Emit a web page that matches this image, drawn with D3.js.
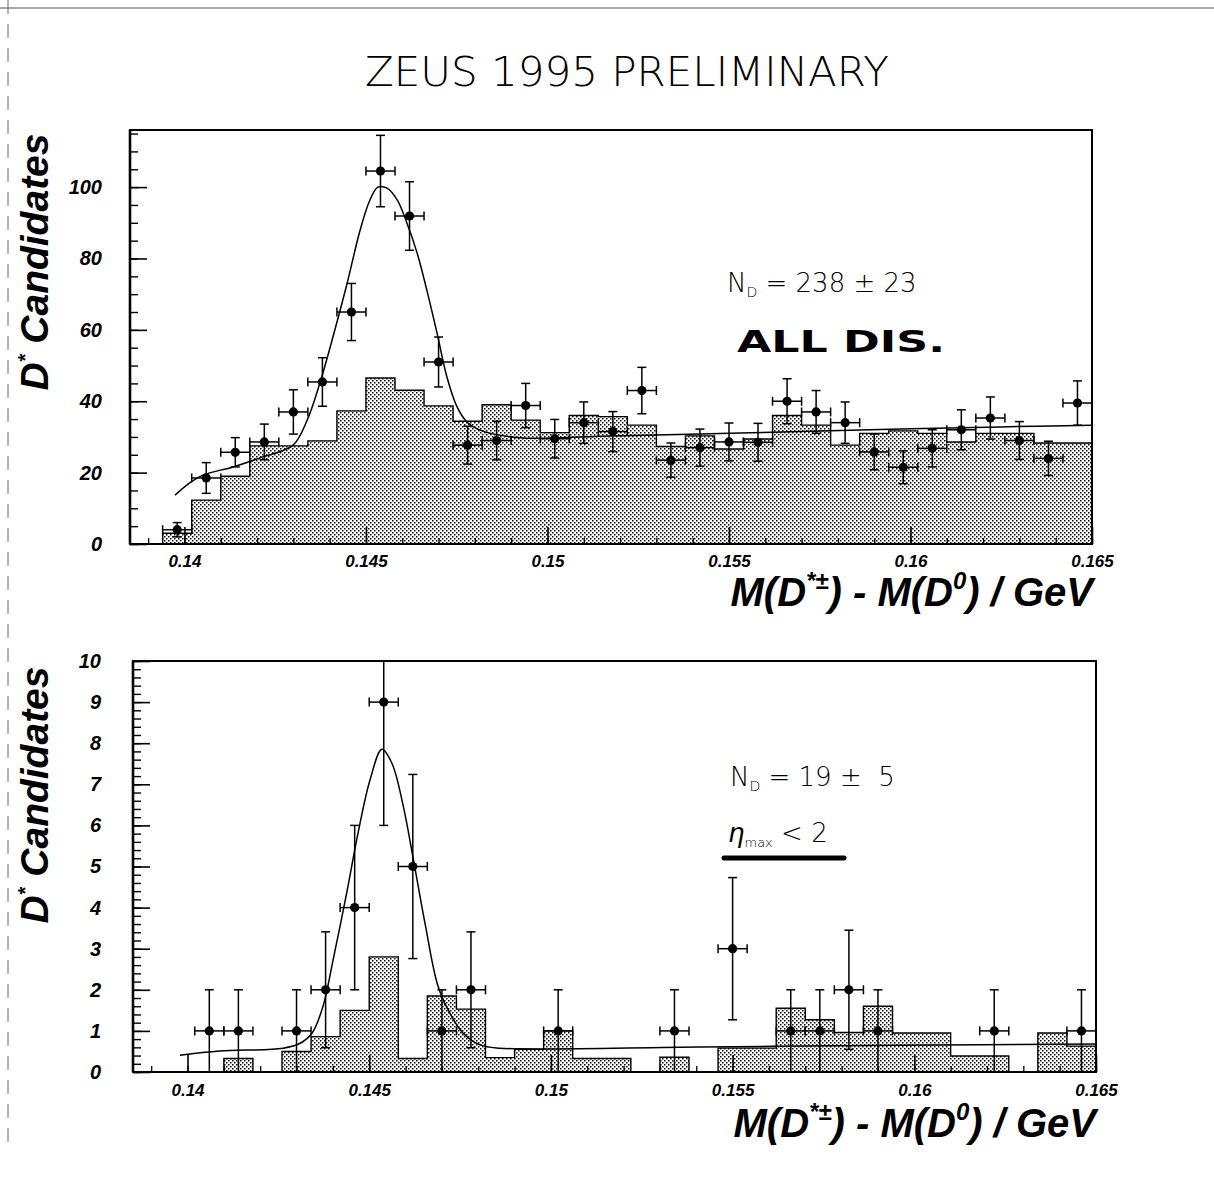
<!DOCTYPE html>
<html>
<head>
<meta charset="utf-8">
<script src="https://cdn.jsdelivr.net/npm/d3@7"></script>
<style>
  html, body { margin: 0; padding: 0; background: #fff; }
  svg { display: block; }
</style>
</head>
<body>
<div id="chart"></div>
<script>
// ---- binning shared by both mass-difference histograms ----
const binStart = 0.1394;
const binWidth = 0.0008;

// ---- ALL DIS sample ----
// right-charge D* candidates per bin and their errors
const topCounts = [4, 18.5, 25.7, 28.6, 37, 45.4, 65, 104.5, 91.9, 51, 27.7, 29, 38.8, 29.5, 34, 31.5,
                   43, 23.5, 27, 28.6, 28.5, 40, 37, 34, 25.8, 21.5, 26.8, 32, 35.3, 29, 24, 39.5];
const topErrors = [2, 4.3, 4.1, 5, 6.2, 6.8, 8, 10, 9.6, 7, 5.3, 5.4, 6.2, 5.4, 5.8, 5.6,
                   6.5, 4.8, 5.2, 5.3, 5.3, 6.3, 6, 5.8, 5, 4.6, 5.2, 5.6, 5.9, 5.3, 4.8, 6.2];
// wrong-charge combinations (shaded histogram)
const topBackground = [3, 12.3, 19, 27.5, 27.5, 28.9, 37.3, 46.5, 43.1, 38.7, 34.4, 39, 34.7, 31.2, 36, 35.7,
                       33.3, 27.3, 30.3, 26.6, 29.4, 36, 33.3, 27.7, 31, 31.7, 31, 28.6, 31, 31, 28.3, 28.3];
// fitted curve (signal + background)
const topFitX = [0.13974, 0.14010, 0.14051, 0.14134, 0.14216, 0.14299, 0.14338, 0.14373, 0.14409, 0.14448,
                 0.14484, 0.14511, 0.14533, 0.14558, 0.14586, 0.14610, 0.14641, 0.14668, 0.14696, 0.14723,
                 0.14751, 0.14778, 0.14814, 0.14924, 0.15145, 0.15420, 0.15696, 0.15971, 0.16247, 0.16500];
const topFitY = [13.7, 16.8, 19.3, 21.6, 24.4, 27.7, 34.7, 45.1, 58, 73,
                 88, 96.4, 100, 99.7, 96.4, 90.7, 81.5, 71, 59, 46.8,
                 38.4, 34.2, 31.9, 29.8, 30.2, 30.8, 31.5, 32.2, 32.8, 33.3];

// ---- eta_max < 2 sample ----
const bottomCounts = [0, 1, 1, 0, 1, 2, 4, 9, 5, 1, 2, 0, 0, 1, 0, 0,
                      0, 1, 0, 3, 0, 1, 1, 2, 1, 0, 0, 0, 1, 0, 0, 1];
const bottomErrors = [0, 1, 1, 0, 1, 1.41, 2, 3, 2.24, 1, 1.41, 0, 0, 1, 0, 0,
                      0, 1, 0, 1.73, 0, 1, 1, 1.45, 1, 0, 0, 0, 1, 0, 0, 1];
const bottomBackground = [0, 0, 0.33, 0, 0.5, 0.86, 1.5, 2.8, 0.33, 1.85, 1.53, 0.35, 0.55, 1.0, 0.33, 0.33,
                          0, 0.36, 0, 0.58, 0.58, 1.55, 1.27, 0.96, 1.6, 0.95, 0.95, 0.39, 0.39, 0, 0.95, 0.63];
const bottomFitX = [0.13979, 0.14089, 0.14263, 0.14310, 0.14343, 0.14373, 0.14400, 0.14439, 0.14469, 0.14502,
                    0.14535, 0.14563, 0.14593, 0.14621, 0.14654, 0.14689, 0.14722, 0.14758, 0.14805, 0.14860,
                    0.15410, 0.15961, 0.16500];
const bottomFitY = [0.41, 0.51, 0.58, 0.7, 0.95, 1.6, 2.7, 4.4, 5.8, 7.1,
                    7.85, 7.5, 6.5, 5.2, 3.6, 2.1, 1.43, 0.95, 0.66, 0.58,
                    0.61, 0.65, 0.68];

// ---- axes ----
const xDomain = [0.1385, 0.165];
const xTickValues = [0.14, 0.145, 0.15, 0.155, 0.16, 0.165];
const xTickLabels = ["0.14", "0.145", "0.15", "0.155", "0.16", "0.165"];
const xMinorTicks = d3.range(0.139, 0.1651, 0.001);
const topYMax = 116;
const topYTicks = [0, 20, 40, 60, 80, 100];
const topYMinor = d3.range(0, 116, 5);
const bottomYMax = 10;
const bottomYTicks = [0, 1, 2, 3, 4, 5, 6, 7, 8, 9, 10];
const bottomYMinor = d3.range(0, 10.01, 0.2);

const W = 1214, H = 1185;
const svg = d3.select("#chart").append("svg")
  .attr("width", W).attr("height", H)
  .attr("viewBox", `0 0 ${W} ${H}`);

// dotted screen used for the wrong-charge histograms
const defs = svg.append("defs");
const pat = defs.append("pattern")
  .attr("id", "dots").attr("patternUnits", "userSpaceOnUse")
  .attr("width", 4).attr("height", 4);
pat.append("rect").attr("width", 4).attr("height", 4).attr("fill", "#fff");
pat.append("rect").attr("x", 0).attr("y", 0).attr("width", 1.5).attr("height", 1.5).attr("fill", "#000");
pat.append("rect").attr("x", 2).attr("y", 2).attr("width", 1.5).attr("height", 1.5).attr("fill", "#000");

const boldItalic = "'Liberation Sans', Arial, Helvetica, sans-serif";
const thinFont = "'DejaVu Sans', 'Liberation Sans', sans-serif";

// page edge marks of the original sheet
svg.append("line").attr("x1", 0).attr("x2", W).attr("y1", 8).attr("y2", 8)
  .attr("stroke", "#555").attr("stroke-width", 1);
svg.append("line").attr("x1", 8).attr("x2", 8).attr("y1", 0).attr("y2", 1150)
  .attr("stroke", "#666").attr("stroke-width", 1).attr("stroke-dasharray", "14 10");

// title
svg.append("text")
  .attr("x", 627).attr("y", 86)
  .attr("text-anchor", "middle")
  .attr("font-family", thinFont).attr("font-weight", 200)
  .attr("font-size", 40)
  .attr("textLength", 524).attr("lengthAdjust", "spacingAndGlyphs")
  .text("ZEUS 1995 PRELIMINARY");

function drawPanel(cfg) {
  const { left, right, top, bottom, yMax, counts, errors, background, fitX, fitY,
          yTicks, yMinor, labelPad, xLabelPad, id } = cfg;
  const x = d3.scaleLinear().domain(xDomain).range([left, right]);
  const y = d3.scaleLinear().domain([0, yMax]).range([bottom, top]);
  const g = svg.append("g");

  defs.append("clipPath").attr("id", "clip" + id)
    .append("rect").attr("x", left).attr("y", top)
    .attr("width", right - left).attr("height", bottom - top);
  const plot = g.append("g").attr("clip-path", `url(#clip${id})`);

  const edges = d3.range(counts.length + 1).map(i => binStart + i * binWidth);
  const centers = d3.range(counts.length).map(i => binStart + (i + 0.5) * binWidth);

  // wrong-charge histogram: filled area + step outline
  const stepPts = [[edges[0], 0]];
  background.forEach((h, i) => { stepPts.push([edges[i], h]); stepPts.push([edges[i + 1], h]); });
  stepPts.push([edges[edges.length - 1], 0]);
  const stepLine = d3.line().x(d => x(d[0])).y(d => y(d[1]));
  plot.append("path").attr("d", stepLine(stepPts) + "Z")
    .attr("fill", "url(#dots)").attr("stroke", "none");
  plot.append("path").attr("d", stepLine(stepPts))
    .attr("fill", "none").attr("stroke", "#000").attr("stroke-width", 1.4);

  // fit curve
  const fitPts = fitX.map((v, i) => [v, fitY[i]]);
  plot.append("path")
    .attr("d", d3.line().x(d => x(d[0])).y(d => y(d[1])).curve(d3.curveCatmullRom.alpha(0.5))(fitPts))
    .attr("fill", "none").attr("stroke", "#000").attr("stroke-width", 1.5);

  // data points with error bars
  const pts = counts.map((c, i) => ({ c, e: errors[i], xc: centers[i] })).filter(d => d.c > 0);
  const eg = plot.append("g").attr("stroke", "#000").attr("stroke-width", 1.5);
  const cap = 4.5;
  pts.forEach(d => {
    const xc = x(d.xc), yc = y(d.c);
    const y1 = y(Math.max(d.c - d.e, 0)), y2 = y(d.c + d.e);
    const xa = x(d.xc - binWidth / 2), xb = x(d.xc + binWidth / 2);
    eg.append("line").attr("x1", xc).attr("x2", xc).attr("y1", y1).attr("y2", y2);
    eg.append("line").attr("x1", xc - cap).attr("x2", xc + cap).attr("y1", y2).attr("y2", y2);
    eg.append("line").attr("x1", xc - cap).attr("x2", xc + cap).attr("y1", y1).attr("y2", y1);
    eg.append("line").attr("x1", xa).attr("x2", xb).attr("y1", yc).attr("y2", yc);
    eg.append("line").attr("x1", xa).attr("x2", xa).attr("y1", yc - cap).attr("y2", yc + cap);
    eg.append("line").attr("x1", xb).attr("x2", xb).attr("y1", yc - cap).attr("y2", yc + cap);
  });
  plot.append("g").selectAll("circle").data(pts).join("circle")
    .attr("cx", d => x(d.xc)).attr("cy", d => y(d.c)).attr("r", 4.6).attr("fill", "#000");

  // axes: ticks point into the frame
  const yMinorAxis = d3.axisLeft(y).tickValues(yMinor).tickSize(-8).tickFormat("");
  g.append("g").attr("transform", `translate(${left},0)`).call(yMinorAxis)
    .call(s => s.select(".domain").remove())
    .selectAll("line").attr("stroke-width", 1.4);
  const yAxis = d3.axisLeft(y).tickValues(yTicks).tickSize(-17).tickPadding(labelPad).tickFormat(d3.format("d"));
  g.append("g").attr("transform", `translate(${left},0)`).call(yAxis)
    .call(s => s.select(".domain").remove())
    .call(s => s.selectAll("line").attr("stroke-width", 1.6))
    .selectAll("text")
    .attr("font-family", boldItalic).attr("font-weight", "bold").attr("font-style", "italic")
    .attr("font-size", 20).attr("fill", "#000");

  const xMinorAxis = d3.axisBottom(x).tickValues(xMinorTicks).tickSize(-6).tickFormat("");
  g.append("g").attr("transform", `translate(0,${bottom})`).call(xMinorAxis)
    .call(s => s.select(".domain").remove())
    .selectAll("line").attr("stroke-width", 1.3);
  const xAxis = d3.axisBottom(x).tickValues(xTickValues).tickSize(-17).tickPadding(xLabelPad)
    .tickFormat((d, i) => xTickLabels[i]);
  g.append("g").attr("transform", `translate(0,${bottom})`).call(xAxis)
    .call(s => s.select(".domain").remove())
    .call(s => s.selectAll("line").attr("stroke-width", 1.6))
    .selectAll("text")
    .attr("font-family", boldItalic).attr("font-weight", "bold").attr("font-style", "italic")
    .attr("font-size", 17).attr("fill", "#000");

  // frame
  g.append("rect").attr("x", left).attr("y", top)
    .attr("width", right - left).attr("height", bottom - top)
    .attr("fill", "none").attr("stroke", "#000").attr("stroke-width", 2);
  g.append("line").attr("x1", left).attr("x2", left).attr("y1", top).attr("y2", bottom)
    .attr("stroke", "#000").attr("stroke-width", 2.6);

  // x-axis title
  const xt = svg.append("text")
    .attr("x", cfg.xTitleX).attr("y", cfg.xTitleY).attr("text-anchor", "end")
    .attr("font-family", boldItalic).attr("font-weight", "bold").attr("font-style", "italic")
    .attr("font-size", 40);
  xt.append("tspan").text("M(D");
  xt.append("tspan").attr("dy", -17).attr("font-size", 24).text("*\u00B1");
  xt.append("tspan").attr("dy", 17).text(") - M(D");
  xt.append("tspan").attr("dy", -17).attr("font-size", 24).text("0");
  xt.append("tspan").attr("dy", 17).text(") / GeV");

  // y-axis title
  const yt = svg.append("text")
    .attr("transform", `translate(${cfg.yTitleX},${cfg.yTitleY}) rotate(-90)`)
    .attr("text-anchor", "middle")
    .attr("font-family", boldItalic).attr("font-weight", "bold").attr("font-style", "italic")
    .attr("font-size", 39);
  yt.append("tspan").text("D");
  yt.append("tspan").attr("dy", -16).attr("font-size", 20).text("*");
  yt.append("tspan").attr("dy", 16).text(" Candidates");

  return { x, y };
}

drawPanel({
  id: "top", left: 130, right: 1092, top: 130, bottom: 544, yMax: topYMax,
  counts: topCounts, errors: topErrors, background: topBackground,
  fitX: topFitX, fitY: topFitY, yTicks: topYTicks, yMinor: topYMinor,
  labelPad: 28, xLabelPad: 11, xTitleX: 1093, xTitleY: 606, yTitleX: 48, yTitleY: 262
});

drawPanel({
  id: "bottom", left: 133, right: 1096, top: 661, bottom: 1072, yMax: bottomYMax,
  counts: bottomCounts, errors: bottomErrors, background: bottomBackground,
  fitX: bottomFitX, fitY: bottomFitY, yTicks: bottomYTicks, yMinor: bottomYMinor,
  labelPad: 32, xLabelPad: 12, xTitleX: 1096, xTitleY: 1137, yTitleX: 48, yTitleY: 795
});

// fit results and selection labels
function yieldLabel(xp, yp, value) {
  const t = svg.append("text").attr("x", xp).attr("y", yp)
    .attr("font-family", thinFont).attr("font-weight", 200).attr("font-size", 26);
  t.append("tspan").text("N");
  t.append("tspan").attr("dy", 5).attr("font-size", 14).text("D");
  t.append("tspan").attr("dy", -5).text("\u00A0=\u00A0" + value);
}
yieldLabel(727, 292, "238\u00A0\u00B1\u00A023");
yieldLabel(730, 786, "19\u00A0\u00B1\u00A0\u00A05");

svg.append("text").attr("x", 737).attr("y", 352)
  .attr("font-family", "'DejaVu Sans', sans-serif").attr("font-weight", "bold")
  .attr("font-size", 31)
  .attr("textLength", 208).attr("lengthAdjust", "spacingAndGlyphs")
  .text("ALL DIS.");

const eta = svg.append("text").attr("x", 728).attr("y", 842)
  .attr("font-family", thinFont).attr("font-weight", 200).attr("font-size", 26);
eta.append("tspan").attr("font-style", "italic").text("\u03B7");
eta.append("tspan").attr("dy", 5).attr("font-size", 13).text("max");
eta.append("tspan").attr("dy", -5).text("\u00A0<\u00A02");
svg.append("line").attr("x1", 724).attr("x2", 844).attr("y1", 858).attr("y2", 858)
  .attr("stroke", "#000").attr("stroke-width", 5).attr("stroke-linecap", "round");
</script>
</body>
</html>
